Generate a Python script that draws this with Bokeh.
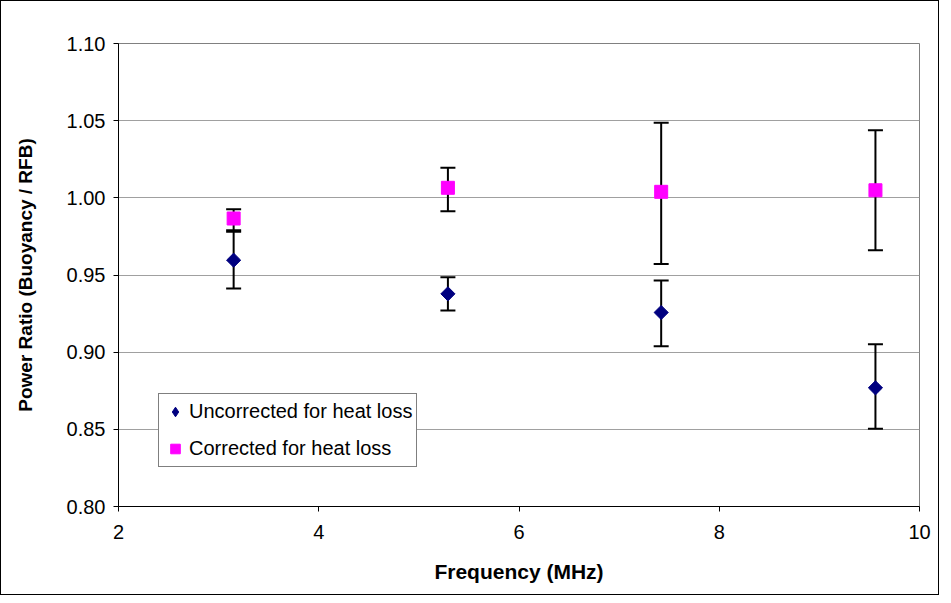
import math
from bokeh.plotting import figure
from bokeh.models import Legend, LegendItem, FixedTicker, ColumnDataSource, CustomJSTickFormatter
from bokeh.embed import file_html
from bokeh.resources import INLINE

# Data
freq = [3.15, 5.29, 7.42, 9.56]
uncorrected = [0.9596, 0.9378, 0.9257, 0.8769]
unc_upper = [0.978, 0.9486, 0.9464, 0.9051]
unc_lower = [0.9412, 0.927, 0.9039, 0.8503]
corrected = [0.9866, 1.0065, 1.0039, 1.0049]
cor_upper = [0.9926, 1.0195, 1.0486, 1.0438]
cor_lower = [0.979, 0.9913, 0.9572, 0.966]
x_ticks = [2, 4, 6, 8, 10]
y_ticks = [0.80, 0.85, 0.90, 0.95, 1.00, 1.05, 1.10]
series_names = ["Uncorrected for heat loss", "Corrected for heat loss"]

FONT = "Liberation Sans"

p = figure(width=939, height=595, output_backend="svg", toolbar_location=None,
           x_range=(2, 10), y_range=(0.80, 1.10),
           min_border_left=117, min_border_top=42, min_border_right=21, min_border_bottom=90)
p.styles = {"border": "1px solid black"}

p.outline_line_color = "#808080"
p.outline_line_width = 1

p.xgrid.grid_line_color = None
p.ygrid.grid_line_color = "#a0a0a0"
p.ygrid.grid_line_width = 1

p.xaxis.ticker = FixedTicker(ticks=x_ticks)
p.yaxis.ticker = FixedTicker(ticks=y_ticks)
p.yaxis.formatter = CustomJSTickFormatter(code="return tick.toFixed(2);")

for ax in (p.xaxis, p.yaxis):
    ax.axis_line_color = "black"
    ax.axis_line_width = 1
    ax.major_tick_line_color = "black"
    ax.major_tick_in = 0
    ax.major_tick_out = 5
    ax.minor_tick_line_color = None
    ax.major_label_text_font = FONT
    ax.major_label_text_font_size = "20px"
    ax.major_label_text_color = "black"
    ax.axis_label_text_font = FONT
    ax.axis_label_text_font_style = "bold"
    ax.axis_label_text_color = "black"

p.xaxis.axis_label = "Frequency (MHz)"
p.yaxis.axis_label = "Power Ratio (Buoyancy / RFB)"
p.xaxis.axis_label_text_font_size = "21px"
p.yaxis.axis_label_text_font_size = "19px"
p.xaxis.major_label_standoff = 13
p.yaxis.major_label_standoff = 8
p.xaxis.axis_label_standoff = 18
p.yaxis.axis_label_standoff = 28

# error bars
src_u = ColumnDataSource(dict(x=freq, y=uncorrected, up=unc_upper, lo=unc_lower))
src_c = ColumnDataSource(dict(x=freq, y=corrected, up=cor_upper, lo=cor_lower))
for src in (src_u, src_c):
    p.segment(x0="x", y0="lo", x1="x", y1="up", source=src, line_color="black", line_width=2)
    p.scatter(x="x", y="up", source=src, marker="dash", size=15, line_color="black", line_width=2)
    p.scatter(x="x", y="lo", source=src, marker="dash", size=15, line_color="black", line_width=2)

# diamond glyph (used for the legend), covered by the rotated square on top
leg_u = p.scatter(x="x", y="y", source=src_u, marker="diamond", size=9,
                  fill_color="#000080", line_color="#000080")
p.scatter(x="x", y="y", source=src_u, marker="square", size=10, angle=math.pi / 4,
          fill_color="#000080", line_color="#000080")
r_c = p.scatter(x="x", y="y", source=src_c, marker="square", size=13,
                fill_color="#FF00FF", line_color="#FF00FF")

legend = Legend(items=[LegendItem(label=series_names[0], renderers=[leg_u]),
                       LegendItem(label=series_names[1], renderers=[r_c])],
                location=(40, 39))
legend.label_text_font = FONT
legend.label_text_font_size = "20px"
legend.label_text_color = "black"
legend.border_line_color = "black"
legend.border_line_width = 1
legend.background_fill_alpha = 1
legend.padding = 4
legend.spacing = 10
legend.glyph_width = 24
legend.glyph_height = 27
legend.label_height = 27
legend.label_standoff = 2
legend.margin = 0
p.add_layout(legend, "center")

open("out.html", "w").write(file_html(p, INLINE))
